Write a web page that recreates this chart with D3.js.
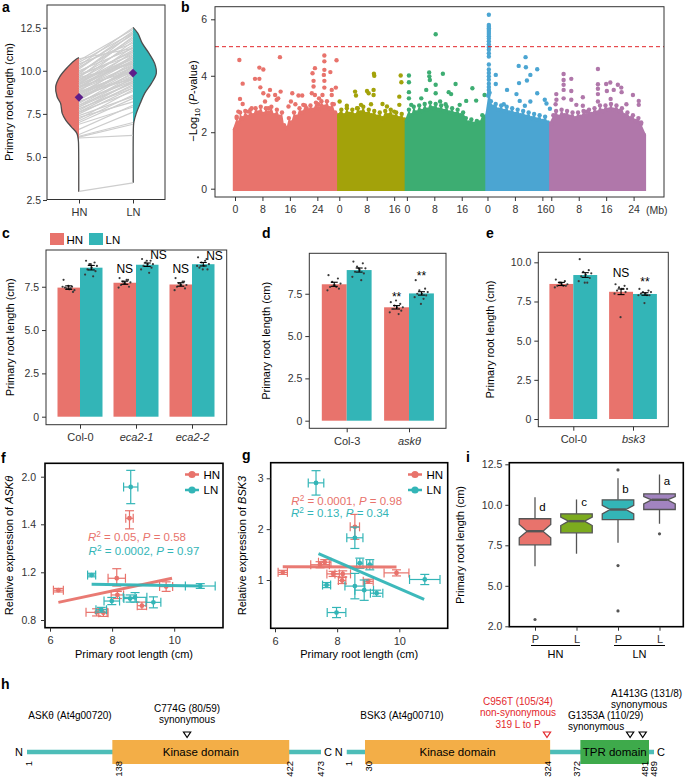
<!DOCTYPE html>
<html><head><meta charset="utf-8">
<script src="https://cdn.jsdelivr.net/npm/d3@7"></script>
<style>body{margin:0;background:#fff}svg text{font-family:"Liberation Sans",Arial,Helvetica,sans-serif}</style>
</head><body>
<svg id="c" width="685" height="777"></svg>
<script>
// ================= DATA =================
// Panel a
const aGroups = ["HN", "LN"];
const aTicks = [2.5, 5, 7.5, 10, 12.5];
const aDensityHN = [[2.98,0.01],[5.8,0.02],[5.98,0.03],[6.37,0.09],[6.75,0.33],[7.14,0.57],[7.53,0.72],[8.11,0.79],[8.49,0.94],[9.07,1.0],[9.65,0.83],[10.24,0.47],[10.66,0.14],[10.76,0]];
const aDensityLN = [[3.5,0.01],[6.8,0.02],[7.04,0.04],[7.53,0.14],[8.11,0.31],[8.69,0.5],[9.27,0.79],[9.85,1.0],[10.43,0.93],[11.01,0.69],[11.59,0.4],[12.17,0.21],[12.52,0]];
const aPairHN = [3.0,6.1,6.15,6.2,6.3,6.6,6.9,7.1,7.3,7.5,7.6,7.7,7.8,7.9,8.0,8.1,8.2,8.3,8.4,8.5,8.5,8.6,8.7,8.8,8.9,9.0,9.0,9.1,9.2,9.3,9.4,9.5,9.6,9.7,9.8,9.9,10.0,10.2,10.4,10.6,10.7,
  7.0,7.2,7.4,7.6,7.8,8.0,8.2,8.3,8.5,8.6,8.7,8.8,8.9,9.0,9.1,9.2,9.3,9.4,9.5,9.6,9.7,9.8,9.9,10.1,10.3,10.5,8.4,8.8,9.2,7.9];
const aPairLN = [3.5,6.25,6.9,7.0,7.6,8.0,7.9,8.6,8.2,9.0,8.8,9.4,9.1,9.6,9.3,9.9,9.5,10.0,9.8,10.2,9.7,10.1,10.4,9.9,10.6,10.3,10.8,10.0,10.5,11.0,10.7,11.2,10.4,11.5,10.9,11.8,11.3,12.1,11.6,12.4,11.3,
  8.4,8.9,8.5,9.2,9.0,9.7,9.4,10.3,9.6,10.5,10.0,10.9,10.2,11.1,10.6,11.4,10.8,11.7,10.5,12.0,11.1,12.2,11.9,12.3,12.5,12.2,10.1,9.5,10.7,9.3];
const aMeans = [8.46, 9.87];

// Panel b (Manhattan)
const chrLengths = [30.4, 19.7, 23.5, 18.6, 27.0];
const bTicks = [0, 2, 4, 6];
const bMbTicks = [0, 8, 16, 24];
const bThreshold = 5.03;
const chr1Band = [[0,2.1],[0.5,2.5],[1,2.35],[1.5,2.7],[2.2,2.5],[3,2.75],[3.8,2.55],[4.5,2.8],[5.3,2.6],[6,2.85],[6.8,2.7],[7.5,2.9],[8.3,2.65],[9,2.85],[9.8,2.7],[10.6,2.9],[11.4,2.6],[12.2,2.8],[13,2.55],[13.7,2.7],[14.3,2.25],[15,2.15],[15.7,2.5],[16.4,2.35],[17.2,2.7],[18,2.55],[18.8,2.85],[19.6,2.7],[20.4,2.95],[21.2,2.75],[22,2.95],[22.8,2.8],[23.6,3.05],[24.4,2.85],[25.2,3.1],[26,2.9],[26.8,3.1],[27.6,2.85],[28.4,3.0],[29.2,2.7],[29.9,2.6],[30.4,2.3]];
const chr2Band = [[0,2.6],[0.6,2.8],[1.4,2.6],[2.2,2.85],[3,2.65],[3.8,2.8],[4.6,2.6],[5.4,2.85],[6.2,2.7],[7,2.9],[7.8,2.65],[8.6,2.8],[9.4,2.6],[10.2,2.75],[11,2.55],[11.8,2.7],[12.6,2.5],[13.4,2.75],[14.2,2.6],[15,2.8],[15.8,2.55],[16.6,2.7],[17.4,2.5],[18.2,2.65],[19,2.45],[19.7,2.3]];
const chr3Band = [[0,2.4],[0.6,2.8],[1.3,2.6],[2,2.9],[2.8,2.7],[3.6,2.95],[4.4,2.75],[5.2,3.0],[6,2.8],[6.8,3.05],[7.6,2.85],[8.4,3.0],[9.2,2.8],[10,2.95],[10.8,2.75],[11.6,2.9],[12.4,2.7],[13.2,2.85],[14,2.65],[14.8,2.8],[15.6,2.6],[16.4,2.7],[17.2,2.5],[18,2.35],[18.8,2.45],[19.6,2.3],[20.4,2.4],[21.2,2.35],[22,2.6],[22.8,2.55],[23.5,2.5]];
const chr4Band = [[0,2.6],[0.2,3.3],[0.6,3.4],[1.0,3.1],[1.6,2.9],[2.4,3.0],[3.2,2.8],[4,2.95],[4.8,2.75],[5.6,2.9],[6.4,2.7],[7.2,2.85],[8,2.65],[8.8,2.8],[9.6,2.6],[10.4,2.75],[11.2,2.55],[12,2.7],[12.8,2.5],[13.6,2.65],[14.4,2.45],[15.2,2.6],[16,2.4],[16.8,2.55],[17.6,2.35],[18.6,2.2]];
const chr5Band = [[0,2.3],[0.6,2.6],[1.4,2.75],[2.2,2.55],[3,2.8],[3.8,2.6],[4.6,2.75],[5.4,2.55],[6.2,2.7],[7,2.5],[7.8,2.7],[8.6,2.55],[9.4,2.75],[10.2,2.6],[11,2.8],[11.8,2.65],[12.6,2.85],[13.4,2.7],[14.2,2.95],[15,2.75],[15.8,2.95],[16.6,2.8],[17.4,3.0],[18.2,2.8],[19,2.95],[19.8,2.75],[20.6,2.85],[21.4,2.6],[22.2,2.7],[23,2.5],[23.8,2.6],[24.6,2.4],[25.4,2.5],[26.2,2.3],[27,1.9]];
const chr1Pts = [[1.27,4.56],[2.24,3.72],[1.46,3.18],[2.24,3.0],[0.97,2.73],[0.49,2.55],[7.1,4.29],[8.26,4.22],[5.83,3.89],[7.1,3.89],[7.39,3.59],[8.26,3.38],[10.2,3.5],[9.72,3.3],[11.7,3.32],[12.15,3.15],[13.1,4.66],[13.3,3.44],[12.6,3.2],[16.7,3.38],[16.3,3.09],[18.5,3.3],[19.6,3.3],[17.6,2.99],[19.9,2.97],[23.3,4.27],[22.6,4.09],[22.9,3.82],[22.9,3.62],[22.4,3.38],[26.05,4.72],[26.05,4.51],[26.05,4.21],[25.9,4.03],[26.05,3.82],[26.05,3.58],[25.5,3.32],[27.8,4.13],[29.6,4.55],[29.4,3.58],[28.2,3.5],[28.2,3.32],[28.8,2.99],[23.3,3.32],[24.5,3.2],[24.3,2.99],[20.9,2.85],[15.6,2.91],[8.75,3.09],[9.72,2.85],[4.86,2.85],[3.89,2.73]];
const chr2Pts = [[0.1,3.09],[2.2,2.94],[4.6,3.44],[4.87,3.3],[5.16,2.85],[6.33,2.97],[8.08,3.46],[8.56,3.38],[10.1,4.07],[10.2,4.0],[10.0,3.5],[10.0,3.32],[9.25,2.99],[12.6,3.0],[13.9,2.91],[16.0,2.73],[17.9,4.01],[18.1,3.77],[17.5,3.26],[17.5,2.97]];
const chr3Pts = [[0.6,4.01],[0.6,3.77],[0.6,3.42],[0.6,3.2],[1.27,2.97],[6.5,4.12],[6.55,3.98],[6.7,3.85],[5.65,3.5],[8.4,3.68],[8.4,3.38],[8.4,5.47],[4.2,3.2],[10.5,4.07],[14.2,3.71],[12.2,3.42],[12.9,3.35],[19.1,3.56],[20.2,3.12],[22.65,3.32],[17.3,3.11],[15.4,2.97],[11.3,2.99],[9.7,3.09]];
const chr4Pts = [[0.4,6.16],[0.4,5.8],[0.4,5.74],[0.4,5.68],[0.4,5.62],[0.4,5.55],[0.4,5.48],[0.4,5.4],[0.4,5.32],[0.4,5.22],[0.4,5.12],[0.4,5.02],[0.4,4.92],[0.4,4.8],[0.4,4.68],[0.4,4.4],[0.4,4.22],[0.4,4.1],[0.4,3.98],[0.4,3.86],[0.4,3.72],[0.4,3.6],[0.4,3.5],[0.3,3.3],[0.5,3.4],[2.42,4.03],[2.42,3.71],[5.7,3.5],[8.45,3.35],[9.1,4.35],[11.1,4.66],[11.2,4.3],[9.2,3.74],[11.5,3.83],[12.5,4.03],[14.5,4.23],[14.5,3.38],[9.4,3.11],[10.9,2.94],[12.5,3.09],[16.7,3.15],[17.2,3.02],[18.2,2.83],[4.75,2.99]];
const chr5Pts = [[3.59,4.06],[3.59,3.85],[3.6,3.68],[3.6,3.5],[3.6,3.2],[5.83,3.89],[5.83,3.46],[5.83,3.15],[1.46,3.35],[1.26,2.99],[9.2,3.24],[9.2,2.94],[13.6,4.24],[13.6,3.7],[13.6,3.54],[13.6,3.35],[13.6,3.09],[16.0,3.71],[17.2,3.76],[16.2,3.46],[18.2,3.5],[19.4,3.68],[20.4,3.58],[20.5,3.42],[21.9,2.99],[23.8,3.32],[25.5,3.11],[25.5,2.97],[26.2,2.35],[17.3,3.18],[1.5,3.15],[7.3,2.97],[10.2,2.73]];

// Panel c
const cGenotypes = ["Col-0", "eca2-1", "eca2-2"];
const cHN = [7.45, 7.73, 7.63];
const cLN = [8.6, 8.77, 8.8];
const cHNse = [0.1, 0.09, 0.1];
const cLNse = [0.13, 0.1, 0.1];
const cHNdots = [[7.9,7.5,7.4,7.3,7.35,7.45,7.2,7.5,7.4,7.55],[8.0,7.9,7.8,7.75,7.7,7.6,7.5,7.45,7.9,7.7],[8.0,7.8,7.7,7.6,7.6,7.5,7.4,7.3,7.8,7.6]];
const cLNdots = [[9.0,8.9,8.8,8.7,8.6,8.5,8.4,8.2,8.1,8.8],[9.1,9.0,8.9,8.8,8.8,8.7,8.6,8.5,8.3,9.0],[9.2,9.1,8.9,8.8,8.7,8.6,8.5,8.7,9.0,8.5]];
const cTicks = [0, 2.5, 5, 7.5];
const cSig = [["eca2-1","HN","NS",8.27],["eca2-1","LN","NS",9.08],["eca2-2","HN","NS",8.31],["eca2-2","LN","NS",9.05]];

// Panel d
const dGenotypes = ["Col-3", "askθ"];
const dHN = [8.06, 6.7];
const dLN = [8.9, 7.52];
const dHNse = [0.12, 0.1];
const dLNse = [0.12, 0.1];
const dHNdots = [[8.6,8.4,8.2,8.1,8.0,7.9,7.8,7.7,7.9,8.0],[7.0,6.9,6.8,6.7,6.7,6.6,6.5,6.4,6.3,7.1]];
const dLNdots = [[9.4,9.3,9.1,9.0,8.9,8.8,8.7,8.5,8.3,9.0],[8.3,7.8,7.7,7.6,7.5,7.5,7.4,7.3,7.2,6.9]];
const dTicks = [0, 2.5, 5, 7.5];
const dSig = [["askθ","HN","**",7.1],["askθ","LN","**",8.34]];

// Panel e
const eGenotypes = ["Col-0", "bsk3"];
const eHN = [8.62, 8.12];
const eLN = [9.19, 7.98];
const eHNse = [0.1, 0.18];
const eLNse = [0.15, 0.08];
const eHNdots = [[8.9,8.8,8.7,8.6,8.6,8.5,8.5,8.4,8.5,8.7],[8.6,8.5,8.4,8.3,8.3,8.2,8.1,8.0,8.3,6.5]];
const eLNdots = [[10.2,9.5,9.4,9.3,9.2,9.1,9.0,8.8,8.7,8.7],[8.3,8.2,8.1,8.1,8.0,8.0,7.9,7.9,7.9,7.4]];
const eTicks = [0, 2.5, 5, 7.5, 10];
const eSig = [["bsk3","HN","NS",9.06],["bsk3","LN","**",8.47]];

// Panel f  [x, y, xerr, yerr]
const fHN = [[8.56,1.476,0.12,0.095],[8.15,1.15,0.28,0.065],[6.27,1.05,0.16,0.015],[9.74,1.08,0.21,0.04],[8.17,1.01,0.2,0.03],[8.96,0.92,0.15,0.03],[7.5,0.864,0.34,0.03],[7.72,0.86,0.15,0.03]];
const fLN = [[8.60,1.87,0.23,0.21],[7.34,1.177,0.13,0.015],[10.84,1.085,0.48,0.02],[7.99,0.959,0.25,0.03],[8.74,0.99,0.38,0.04],[8.58,0.98,0.2,0.03],[9.33,0.948,0.24,0.046],[7.65,0.886,0.17,0.02]];
const fFitHN = [[6.27,0.948],[9.93,1.15]];
const fFitLN = [[7.34,1.10],[10.84,1.085]];
const fYTicks = [0.8, 1.2, 1.4, 2.0];
const fXTicks = [6, 8, 10];
const fStats = [["0.05","0.58"],["0.0002","0.97"]];

// Panel g
const gHN = [[8.57,2.045,0.15,0.245],[6.25,1.15,0.15,0.04],[7.45,1.30,0.3,0.06],[7.6,1.35,0.2,0.05],[7.87,1.12,0.2,0.05],[8.18,1.12,0.25,0.06],[8.16,0.99,0.12,0.06],[9.0,0.975,0.16,0.04],[9.91,1.14,0.4,0.06]];
const gLN = [[7.32,2.91,0.25,0.24],[8.57,1.83,0.26,0.21],[7.66,0.90,0.13,0.05],[8.57,0.88,0.32,0.25],[8.87,0.80,0.3,0.2],[9.27,0.74,0.2,0.06],[10.82,1.01,0.49,0.1],[7.98,0.36,0.3,0.1],[8.73,1.33,0.1,0.1],[9.05,1.3,0.1,0.1]];
const gFitHN = [[6.25,1.26],[9.91,1.255]];
const gFitLN = [[7.4,1.52],[10.8,0.62]];
const gYTicks = [1, 2, 3];
const gStats = [["0.0001","0.98"],["0.13","0.34"]];

// Panel i
const iGroups = ["HN P", "HN L", "LN P", "LN L"];
const iTickLabels = ["P", "L", "P", "L"];
const iQ1 = [7.53, 8.27, 9.09, 9.71];
const iMed = [8.37, 8.99, 9.71, 10.31];
const iQ3 = [9.14, 9.44, 10.31, 10.68];
const iLo = [6.21, 6.98, 7.65, 8.83];
const iHi = [10.47, 10.33, 11.64, 11.87];
const iNotchLo = [7.96, 8.72, 9.44, 10.06];
const iNotchHi = [8.78, 9.24, 9.96, 10.51];
const iOutliers = [[2.92], [], [12.15, 6.25, 3.45], [8.21]];
const iLetters = ["d", "c", "b", "a"];
const iLetterY = [9.85, 10.16, 10.99, 11.44];
const iYTicks = [2.5, 5, 7.5, 10, 12.5];
const iYLabels = ["2.0", "5.0", "7.5", "10.0", "12.5"];

// Panel h
const askLength = 473, askKinase = [138, 422], askTicks = [1, 138, 422, 473];
const askMut = [[258, ["C774G (80/59)", "synonymous"], "black"]];
const bskLength = 489, bskKinase = [30, 324], bskTPR = [372, 481], bskTicks = [1, 30, 324, 372, 481, 489];
const bskMut = [[319, ["C956T (105/34)", "non-synonymous", "319 L to P"], "red"], [451, ["G1353A (110/29)", "synonymous"], "black"], [471, ["A1413G (131/8)", "synonymous"], "black"]];

// ================= DRAWING =================
const FONT = '"Liberation Sans", Arial, Helvetica, sans-serif';
const RED = "#E8736C", TEAL = "#33B5B7", AX = "#333";
const svg = d3.select("#c");

function rich(x, y, parts, o = {}) {
  const t = svg.append("text").attr("font-size", o.size || 11).attr("fill", o.fill || "#000")
    .attr("text-anchor", o.anchor || "start");
  if (o.rot) t.attr("transform", `translate(${x},${y}) rotate(-90)`); else t.attr("x", x).attr("y", y);
  if (o.weight) t.attr("font-weight", o.weight);
  let shift = 0;
  parts.forEach(p => {
    if (typeof p === "string") p = { t: p };
    const ts = t.append("tspan").text(p.t);
    if (p.it) ts.attr("font-style", "italic");
    let want = p.sub ? 3 : p.sup ? -4 : 0;
    if (want !== shift) { ts.attr("dy", want - shift); shift = want; }
    if (p.sub || p.sup) ts.attr("font-size", (o.size || 11) * 0.72);
  });
  return t;
}
function frame(x0, y0, x1, y1, sw, col) {
  svg.append("rect").attr("x", x0).attr("y", y0).attr("width", x1 - x0).attr("height", y1 - y0)
    .attr("fill", "none").attr("stroke", col).attr("stroke-width", sw);
}
function styleAxis(g, size) {
  g.attr("font-family", FONT);
  g.select(".domain").remove();
  g.selectAll("line").attr("stroke", AX);
  g.selectAll("text").attr("font-size", size || 10.5).attr("fill", AX);
}
function axisLeft(x, scale, vals, fmt, pad) {
  const g = svg.append("g").attr("transform", `translate(${x},0)`)
    .call(d3.axisLeft(scale).tickValues(vals).tickFormat(fmt).tickSize(4).tickPadding(pad == null ? 3 : pad));
  styleAxis(g); return g;
}
function axisBottom(y, scale, vals, fmt) {
  const g = svg.append("g").attr("transform", `translate(0,${y})`)
    .call(d3.axisBottom(scale).tickValues(vals).tickFormat(fmt).tickSize(4).tickPadding(5));
  styleAxis(g); return g;
}
const fmtBar = d => d === 0 ? "0" : d3.format(".1f")(d);
function panelLetter(x, y, s) { rich(x, y, [s], { size: 14, weight: "bold" }); }

// ---------- Panel a ----------
(function () {
  const y = d3.scaleLinear().domain([2.53, 13.82]).range([199.5, 5]);
  const x = d3.scalePoint().domain(aGroups).range([79, 133]);
  const w = d3.scaleLinear().domain([0, 1]).range([0, 23.3]);
  const cH = x("HN"), cL = x("LN");
  const areaH = d3.area().y(d => y(d[0])).x0(d => cH - w(d[1])).x1(cH).curve(d3.curveCatmullRom);
  const lineH = d3.line().y(d => y(d[0])).x(d => cH - w(d[1])).curve(d3.curveCatmullRom);
  const areaL = d3.area().y(d => y(d[0])).x0(cL).x1(d => cL + w(d[1])).curve(d3.curveCatmullRom);
  const lineL = d3.line().y(d => y(d[0])).x(d => cL + w(d[1])).curve(d3.curveCatmullRom);
  svg.append("path").attr("d", areaH(aDensityHN)).attr("fill", RED);
  svg.append("path").attr("d", areaL(aDensityLN)).attr("fill", TEAL);
  svg.append("path").attr("d", lineH(aDensityHN)).attr("fill", "none").attr("stroke", "#4d4d4d").attr("stroke-width", 1.3);
  svg.append("path").attr("d", lineL(aDensityLN)).attr("fill", "none").attr("stroke", "#4d4d4d").attr("stroke-width", 1.3);
  svg.append("g").selectAll("line").data(aPairHN).join("line")
    .attr("x1", cH).attr("x2", cL).attr("y1", d => y(d)).attr("y2", (d, i) => y(aPairLN[i]))
    .attr("stroke", "#CDCDCD").attr("stroke-width", 1.2);
  svg.append("g").selectAll("path").data(aMeans).join("path")
    .attr("d", d3.symbol(d3.symbolSquare, 38)())
    .attr("transform", (d, i) => `translate(${x(aGroups[i])},${y(d)}) rotate(45)`)
    .attr("fill", "#5D1E8A");
  frame(47, 5, 165, 199.5, 1, AX);
  axisLeft(47, y, aTicks, d3.format(".1f"), 2);
  axisBottom(199.5, x, aGroups, d => d).selectAll("text").attr("font-size", 11);
  rich(13, 102, ["Primary root length (cm)"], { rot: true, anchor: "middle" });
  panelLetter(2, 12, "a");
})();

// ---------- Panel b ----------
(function () {
  const total = d3.sum(chrLengths);
  const offsets = chrLengths.map((d, i) => d3.sum(chrLengths.slice(0, i)));
  const x = d3.scaleLinear().domain([0, total]).range([235, 643.9]);
  const y = d3.scaleLinear().domain([0, 6]).range([188.7, 19.3]);
  const colors = ["#E8736C", "#A3A20A", "#3DAD72", "#4BA5D2", "#B077AA"];
  const bands = [chr1Band, chr2Band, chr3Band, chr4Band, chr5Band];
  const pts = [chr1Pts, chr2Pts, chr3Pts, chr4Pts, chr5Pts];
  const R = 2.2;
  bands.forEach((band, i) => {
    const off = offsets[i];
    const n = band.length;
    const area = d3.area()
      .x((d, k) => x(off + d[0]) + (k === 0 ? -R : k === n - 1 ? R : 0))
      .y0(y(0) + R).y1(d => y(d[1])).curve(d3.curveLinear);
    svg.append("path").attr("d", area(band)).attr("fill", colors[i]);
    svg.append("g").selectAll("circle").data(band).join("circle")
      .attr("cx", d => x(off + d[0])).attr("cy", d => y(d[1])).attr("r", R).attr("fill", colors[i]);
    svg.append("g").selectAll("circle").data(pts[i]).join("circle")
      .attr("cx", d => x(off + d[0])).attr("cy", d => y(d[1])).attr("r", R).attr("fill", colors[i]);
  });
  svg.append("line").attr("x1", 215).attr("x2", 664).attr("y1", y(bThreshold)).attr("y2", y(bThreshold))
    .attr("stroke", "#E3262B").attr("stroke-width", 1).attr("stroke-dasharray", "4,3");
  frame(215, 6.7, 664, 197, 1, AX);
  axisLeft(215, y, bTicks, d3.format("d"), 4);
  const tickVals = [], tickLabs = [];
  chrLengths.forEach((L, i) => bMbTicks.filter(t => t <= L).forEach(t => { tickVals.push(offsets[i] + t); tickLabs.push(t); }));
  axisBottom(197, x, tickVals, (d, i) => tickLabs[i]);
  rich(646, 214, ["(Mb)"], { size: 10.5, fill: AX });
  rich(197, 101, ["−Log", { t: "10", sub: true }, " (", { t: "P", it: true }, "-value)"], { rot: true, anchor: "middle" });
  panelLetter(181, 12, "b");
})();

// ---------- Bar panels ----------
function barPanel(o) {
  const y = d3.scaleLinear().domain(o.ydom).range(o.yrange);
  const xc = d3.scalePoint().domain(o.genos).range(o.xrange);
  const bw = o.bw;
  const jit = [-0.55, 0.35, -0.2, 0.6, 0.05, -0.4, 0.45, -0.65, 0.2, -0.05];
  const groups = [["HN", o.HN, o.HNse, o.HNdots, RED, -1], ["LN", o.LN, o.LNse, o.LNdots, TEAL, 0]];
  groups.forEach(([nm, vals, se, dots, col, side]) => {
    svg.append("g").selectAll("rect").data(vals).join("rect")
      .attr("x", (d, i) => xc(o.genos[i]) + side * bw).attr("width", bw)
      .attr("y", d => y(d)).attr("height", d => y(0) - y(d)).attr("fill", col);
  });
  groups.forEach(([nm, vals, se, dots, col, side]) => {
    vals.forEach((v, i) => {
      const cx = xc(o.genos[i]) + side * bw + bw / 2;
      const g = svg.append("g");
      g.selectAll("circle").data(dots[i]).join("circle")
        .attr("cx", (d, j) => cx + jit[j] * bw * 0.42).attr("cy", d => y(d)).attr("r", 1.1).attr("fill", "#3a3a3a");
      g.append("line").attr("x1", cx).attr("x2", cx).attr("y1", y(v - se[i])).attr("y2", y(v + se[i])).attr("stroke", "#000").attr("stroke-width", 1.1);
      [v - se[i], v + se[i]].forEach(e => g.append("line").attr("x1", cx - 3.5).attr("x2", cx + 3.5).attr("y1", y(e)).attr("y2", y(e)).attr("stroke", "#000").attr("stroke-width", 1.1));
    });
  });
  o.sig.forEach(([gname, nm, s, v]) => {
    const cx = xc(gname) + (nm === "HN" ? -bw / 2 : bw / 2) + (s === "NS" && nm === "LN" ? bw * 0.5 : 0);
    rich(cx, y(v), [s], { size: 12, anchor: "middle" });
  });
  frame(o.box[0], o.box[1], o.box[2], o.box[3], 1, AX);
  axisLeft(o.box[0], y, o.ticks, fmtBar, 3);
  const ax = axisBottom(o.box[3], xc, o.genos, d => d);
  ax.selectAll("text").attr("font-size", 11).attr("font-style", d => o.italic.includes(d) ? "italic" : null);
  rich(o.ylabX, (o.box[1] + o.box[3]) / 2, ["Primary root length (cm)"], { rot: true, anchor: "middle" });
}
barPanel({ genos: cGenotypes, HN: cHN, LN: cLN, HNse: cHNse, LNse: cLNse, HNdots: cHNdots, LNdots: cLNdots,
  ydom: [0, 9.62], yrange: [416.7, 250], xrange: [80, 192], bw: 22.5, box: [46, 250, 226.7, 424.7],
  ticks: cTicks, sig: cSig, italic: ["eca2-1", "eca2-2"], ylabX: 13.5 });
barPanel({ genos: dGenotypes, HN: dHN, LN: dLN, HNse: dHNse, LNse: dLNse, HNdots: dHNdots, LNdots: dLNdots,
  ydom: [0, 9.89], yrange: [420.7, 253.3], xrange: [346.7, 409], bw: 24.9, box: [309.3, 253.3, 446, 428.3],
  ticks: dTicks, sig: dSig, italic: ["askθ"], ylabX: 269.5 });
barPanel({ genos: eGenotypes, HN: eHN, LN: eLN, HNse: eHNse, LNse: eLNse, HNdots: eHNdots, LNdots: eLNdots,
  ydom: [0, 10.64], yrange: [419, 252.3], xrange: [573.3, 633], bw: 23.9, box: [538.3, 252.3, 668.3, 426.7],
  ticks: eTicks, sig: eSig, italic: ["bsk3"], ylabX: 493.5 });
[["HN", RED, 50], ["LN", TEAL, 89]].forEach(([t, c, x0]) => {
  svg.append("rect").attr("x", x0).attr("y", 233).attr("width", 14).attr("height", 12).attr("fill", c);
  rich(x0 + 16.5, 243.5, [t], { size: 11.5 });
});
panelLetter(2, 238, "c");
panelLetter(262, 238, "d");
panelLetter(486, 238, "e");

// ---------- Scatter panels f, g ----------
function scatterPanel(o) {
  const x = d3.scaleLinear().domain([6, 10]).range(o.xrange);
  const y = o.y;
  const sets = [[o.HN, RED, o.fitHN], [o.LN, TEAL, o.fitLN]];
  sets.forEach(([pts, col]) => {
    const g = svg.append("g").attr("stroke", col).attr("stroke-width", 1.2).attr("fill", "none");
    pts.forEach(([px, py, ex, ey]) => {
      const cx = x(px), cy = y(py);
      g.append("line").attr("x1", x(px - ex)).attr("x2", x(px + ex)).attr("y1", cy).attr("y2", cy);
      [px - ex, px + ex].forEach(e => g.append("line").attr("x1", x(e)).attr("x2", x(e)).attr("y1", cy - 4.5).attr("y2", cy + 4.5));
      g.append("line").attr("x1", cx).attr("x2", cx).attr("y1", y(py - ey)).attr("y2", y(py + ey));
      [py - ey, py + ey].forEach(e => g.append("line").attr("x1", cx - 4.5).attr("x2", cx + 4.5).attr("y1", y(e)).attr("y2", y(e)));
    });
    svg.append("g").selectAll("circle").data(pts).join("circle")
      .attr("cx", d => x(d[0])).attr("cy", d => y(d[1])).attr("r", 2.4).attr("fill", col);
  });
  sets.forEach(([pts, col, fit]) => {
    svg.append("path").attr("d", d3.line().x(d => x(d[0])).y(d => y(d[1]))(fit))
      .attr("stroke", col).attr("stroke-width", 3).attr("fill", "none").attr("opacity", 0.95);
  });
  const b = o.box;
  frame(b[0], b[1], b[2], b[3], 1.6, "#000");
  axisLeft(b[0], y, o.yticks, o.yfmt, o.ypad);
  axisBottom(b[3], x, fXTicks, d3.format("d")).selectAll("text").attr("font-size", 11);
  [["HN", RED, o.leg[1]], ["LN", TEAL, o.leg[1] + 15.5]].forEach(([t, c, ly]) => {
    svg.append("line").attr("x1", o.leg[0]).attr("x2", o.leg[0] + 14).attr("y1", ly).attr("y2", ly).attr("stroke", c).attr("stroke-width", 2.5);
    svg.append("circle").attr("cx", o.leg[0] + 7).attr("cy", ly).attr("r", 3.6).attr("fill", c);
    rich(o.leg[0] + 18.5, ly + 4, [t], { size: 11.5 });
  });
  [[o.stats[0], RED, o.statPos[0]], [o.stats[1], TEAL, o.statPos[1]]].forEach(([s, c, p]) => {
    rich(p[0], p[1], [{ t: "R", it: true }, { t: "2", sup: true }, " = " + s[0] + ", ", { t: "P", it: true }, " = " + s[1]], { size: 11.5, fill: c, anchor: "middle" });
  });
  rich((b[0] + b[2]) / 2, 658, ["Primary root length (cm)"], { anchor: "middle" });
  rich(o.ylabX, (b[1] + b[3]) / 2, ["Relative expression of ", { t: o.gene, it: true }], { rot: true, anchor: "middle" });
}
scatterPanel({ HN: fHN, LN: fLN, fitHN: fFitHN, fitLN: fFitLN, xrange: [50, 174.2],
  y: d3.scaleLinear().domain([0.8, 1.2, 1.4, 2.0]).range([620, 572.3, 524.3, 476.7]),
  yticks: fYTicks, yfmt: d3.format(".1f"), ypad: 5, box: [45, 463.3, 223, 627.7],
  leg: [185, 474.5], stats: fStats, statPos: [[137, 540.5], [144, 554.5]], gene: "ASKθ", ylabX: 12.5 });
scatterPanel({ HN: gHN, LN: gLN, fitHN: gFitHN, fitLN: gFitLN, xrange: [275, 399.3],
  y: d3.scaleLinear().domain([1, 3]).range([580, 478.3]),
  yticks: gYTicks, yfmt: d3.format("d"), ypad: 3, box: [270.7, 462.7, 447.7, 628.3],
  leg: [408, 474.5], stats: gStats, statPos: [[346.7, 504.5], [340, 517]], gene: "BSK3", ylabX: 246 });
panelLetter(1, 463, "f");
panelLetter(242, 460, "g");

// ---------- Panel i ----------
(function () {
  const y = d3.scaleLinear().domain([2.5, 12.5]).range([626.3, 464.3]);
  const x = d3.scalePoint().domain(iGroups).range([535, 659.5]);
  const cols = ["#E8736C", "#7CAB1E", "#33B5B7", "#A284C0"];
  const bw = 31.5, nin = bw * 0.25;
  iGroups.forEach((gname, i) => {
    const cx = x(gname), x0 = cx - bw / 2, x1 = cx + bw / 2;
    const g = svg.append("g");
    g.append("line").attr("x1", cx).attr("x2", cx).attr("y1", y(iHi[i])).attr("y2", y(iQ3[i])).attr("stroke", "#555").attr("stroke-width", 1.3);
    g.append("line").attr("x1", cx).attr("x2", cx).attr("y1", y(iLo[i])).attr("y2", y(iQ1[i])).attr("stroke", "#555").attr("stroke-width", 1.3);
    const poly = [[x0, iQ1[i]], [x0, iNotchLo[i]], [x0 + nin, iMed[i]], [x0, iNotchHi[i]], [x0, iQ3[i]], [x1, iQ3[i]], [x1, iNotchHi[i]], [x1 - nin, iMed[i]], [x1, iNotchLo[i]], [x1, iQ1[i]]];
    g.append("path").attr("d", "M" + poly.map(p => p[0] + "," + y(p[1])).join("L") + "Z")
      .attr("fill", cols[i]).attr("stroke", "#555").attr("stroke-width", 1.3);
    g.append("line").attr("x1", x0 + nin).attr("x2", x1 - nin).attr("y1", y(iMed[i])).attr("y2", y(iMed[i])).attr("stroke", "#555").attr("stroke-width", 2.4);
    g.selectAll("circle").data(iOutliers[i]).join("circle").attr("cx", cx).attr("cy", d => y(d)).attr("r", 1.6).attr("fill", "#555");
    rich(cx + 7.5, y(iLetterY[i]) + 4, [iLetters[i]], { size: 11.5, anchor: "middle" });
  });
  frame(509.3, 462.7, 683.3, 626.7, 1.6, "#000");
  axisLeft(509.3, y, iYTicks, (d, i) => iYLabels[i], 3);
  axisBottom(626.7, x, iGroups, (d, i) => iTickLabels[i]).selectAll("text").attr("font-size", 11);
  [["HN", 531, 580], ["LN", 614, 665]].forEach(([t, a, b]) => {
    svg.append("line").attr("x1", a).attr("x2", b).attr("y1", 645.5).attr("y2", 645.5).attr("stroke", "#000").attr("stroke-width", 1);
    rich((a + b) / 2, 658, [t], { anchor: "middle" });
  });
  rich(463.5, 545, ["Primary root length (cm)"], { rot: true, anchor: "middle" });
  panelLetter(466, 462, "i");
})();

// ---------- Panel h ----------
(function () {
  const LY = 752, BH = 24;
  const LINE = "#4DBDB8", ORANGE = "#F3AE47", GREEN = "#3EAA4B";
  function gene(scale, len, domains, ticks, nudge, muts, title, titleX) {
    svg.append("line").attr("x1", scale(1)).attr("x2", scale(len)).attr("y1", LY).attr("y2", LY).attr("stroke", LINE).attr("stroke-width", 4.5);
    domains.forEach(([a, b, col, name]) => {
      svg.append("rect").attr("x", scale(a)).attr("y", LY - BH / 2).attr("width", scale(b) - scale(a)).attr("height", BH).attr("fill", col);
      rich((scale(a) + scale(b)) / 2, LY + 4, [name], { size: 11.5, anchor: "middle" });
    });
    rich(scale(1) - 4, LY + 4, ["N"], { size: 11, anchor: "end" });
    rich(scale(len) + 3, LY + 4, ["C"], { size: 11 });
    ticks.forEach((t, k) => rich(scale(t) + nudge[k] + 3.4, 761, [String(t)], { size: 9.5, rot: true, anchor: "end" }));
    rich(titleX, 719, [title], { size: 10, anchor: "middle" });
    muts.forEach(([pos, lines, col, lx, ly, anchor]) => {
      const cx = scale(pos);
      svg.append("path").attr("d", `M${cx - 3.6},${LY - 20}L${cx + 3.6},${LY - 20}L${cx},${LY - 14.5}Z`)
        .attr("fill", "none").attr("stroke", col === "red" ? "#E3262B" : "#000").attr("stroke-width", 1.2);
      lines.forEach((s, k) => rich(lx, ly + k * 11.3, [s], { size: 10, fill: col === "red" ? "#E3262B" : "#000", anchor: anchor }));
    });
  }
  const askScale = d3.scaleLinear().domain([1, askLength]).range([27, 321]);
  const askM = askMut.map(m => [...m, askScale(m[0]), 712, "middle"]);
  gene(askScale, askLength, [[askKinase[0], askKinase[1], ORANGE, "Kinase domain"]], askTicks, [2, 6, 0, 0], askM, "ASKθ (At4g00720)", 70);
  const bskScale = d3.scaleLinear().domain([30, 481]).range([365, 649]);
  const bskM = [[...bskMut[0], 518, 705, "middle"], [...bskMut[1], 568, 719, "start"], [...bskMut[2], 611, 697, "start"]];
  gene(bskScale, bskLength, [[bskKinase[0], bskKinase[1], ORANGE, "Kinase domain"], [bskTPR[0], bskTPR[1], GREEN, "TPR domain"]], bskTicks, [2, 4, -3, -3.5, -4, 0], bskM, "BSK3 (At4g00710)", 402);
  panelLetter(1, 689, "h");
})();
</script>
</body></html>
